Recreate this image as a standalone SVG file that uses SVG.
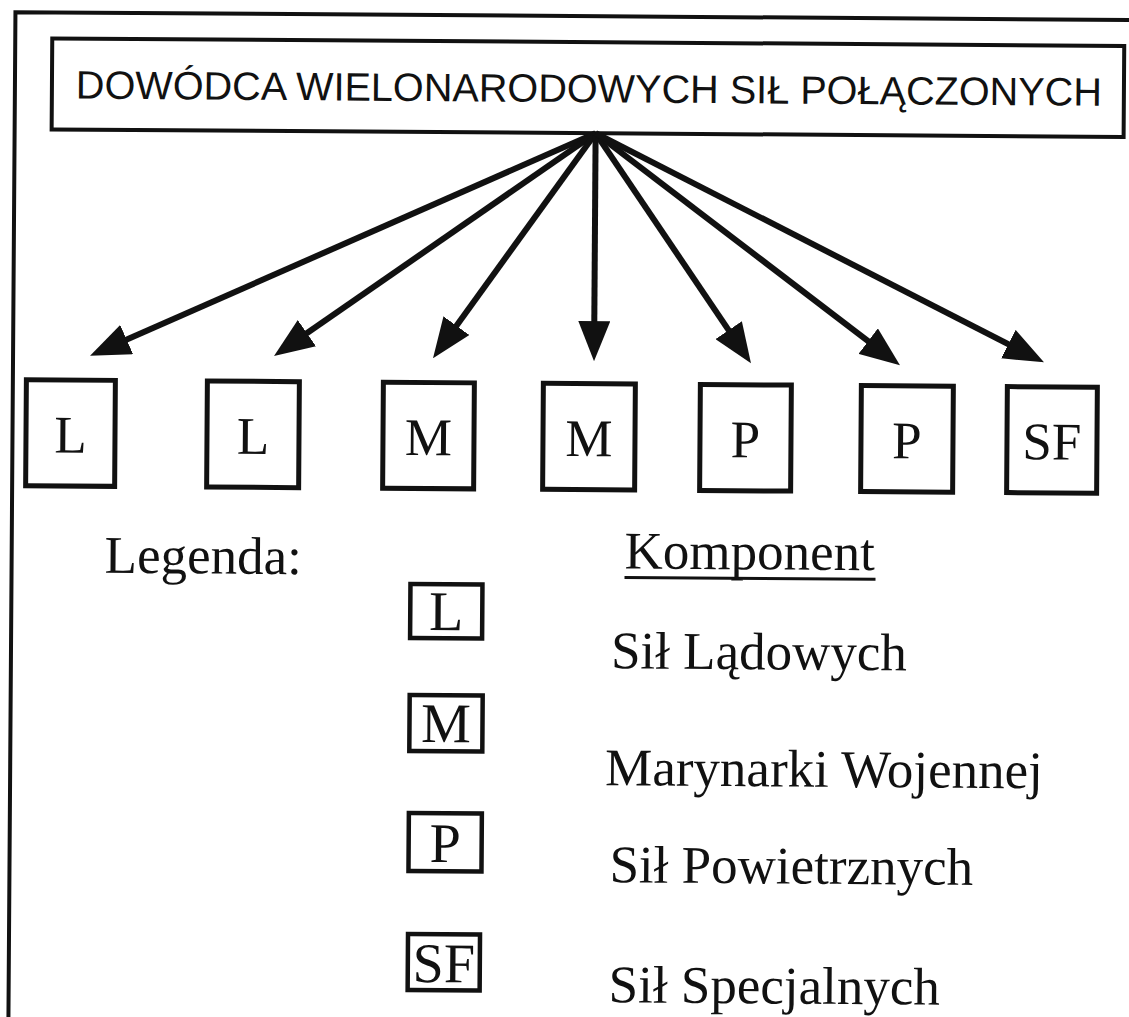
<svg xmlns="http://www.w3.org/2000/svg" width="1129" height="1017" viewBox="0 0 1129 1017">
  <style>
    .frame { fill: none; stroke: #111; stroke-width: 4; }
    .box { fill: #fff; stroke: #111; stroke-width: 5; }
    .lbox { fill: #fff; stroke: #111; stroke-width: 4.5; }
    .title { font-family: "Liberation Sans", Arial, sans-serif; font-size: 39.5px; fill: #111; text-anchor: middle; }
    .letter { font-family: "Liberation Serif", "Times New Roman", serif; font-size: 53px; fill: #111; text-anchor: middle; }
    .lletter { font-family: "Liberation Serif", "Times New Roman", serif; font-size: 56px; fill: #111; text-anchor: middle; }
    .legend { font-family: "Liberation Serif", "Times New Roman", serif; font-size: 53px; fill: #111; }
    .conn { stroke: #111; stroke-width: 6; fill: none; }
  </style>
  <defs>
    <marker id="head" markerUnits="userSpaceOnUse" viewBox="0 0 40 32" markerWidth="40" markerHeight="32" refX="16" refY="16" orient="auto">
      <path d="M0,0 L40,16 L0,32 z" fill="#111"/>
    </marker>
  </defs>
  <rect width="1129" height="1017" fill="#fff"/>
  <g transform="rotate(0.4 564 508)">
    <!-- page frame -->
    <path class="frame" d="M12,1030 V16 H1140"/>

    <!-- commander -->
    <g id="commander">
      <rect class="frame" x="49" y="42" width="1072" height="91"/>
      <text class="title" x="586" y="102" textLength="1026" lengthAdjust="spacingAndGlyphs">DOWÓDCA WIELONARODOWYCH SIŁ POŁĄCZONYCH</text>
    </g>

    <!-- arrows from commander to components -->
    <g id="connectors">
      <line class="conn" x1="593" y1="133" x2="110.9" y2="349.2" marker-end="url(#head)"/>
      <line class="conn" x1="593" y1="133" x2="292.6" y2="344.2" marker-end="url(#head)"/>
      <line class="conn" x1="593" y1="133" x2="445.9" y2="339.5" marker-end="url(#head)"/>
      <line class="conn" x1="593" y1="133" x2="593" y2="337" marker-end="url(#head)"/>
      <line class="conn" x1="593" y1="133" x2="736.4" y2="342.2" marker-end="url(#head)"/>
      <line class="conn" x1="593" y1="133" x2="879.8" y2="348.6" marker-end="url(#head)"/>
      <line class="conn" x1="593" y1="133" x2="1021.5" y2="348.2" marker-end="url(#head)"/>
    </g>

    <!-- component boxes -->
    <g id="land-1">
      <rect class="box" x="25.5" y="383.5" width="89" height="106"/>
      <text class="letter" x="70" y="456">L</text>
    </g>
    <g id="land-2">
      <rect class="box" x="206.5" y="383.5" width="92" height="106"/>
      <text class="letter" x="252.5" y="456">L</text>
    </g>
    <g id="navy-1">
      <rect class="box" x="382.5" y="383.5" width="91" height="106"/>
      <text class="letter" x="428" y="456">M</text>
    </g>
    <g id="navy-2">
      <rect class="box" x="542.5" y="383.5" width="92" height="106"/>
      <text class="letter" x="588.5" y="456">M</text>
    </g>
    <g id="air-1">
      <rect class="box" x="699.5" y="383.5" width="91" height="106"/>
      <text class="letter" x="745" y="456">P</text>
    </g>
    <g id="air-2">
      <rect class="box" x="860.5" y="383.5" width="92" height="106"/>
      <text class="letter" x="906.5" y="456">P</text>
    </g>
    <g id="special">
      <rect class="box" x="1006.5" y="383.5" width="90" height="106"/>
      <text class="letter" x="1051.5" y="456">SF</text>
    </g>

    <!-- legend -->
    <g id="legend">
      <text class="legend" x="105" y="576">Legenda:</text>
      <text class="legend" x="625" y="568">Komponent</text>
      <line x1="625" y1="577" x2="876" y2="577" stroke="#111" stroke-width="3"/>

      <g id="legend-land">
        <rect class="lbox" x="411" y="585" width="72" height="54"/>
        <text class="lletter" x="447" y="631">L</text>
        <text class="legend" x="612" y="668">Sił Lądowych</text>
      </g>
      <g id="legend-navy">
        <rect class="lbox" x="411" y="696" width="73" height="56"/>
        <text class="lletter" x="447.5" y="743">M</text>
        <text class="legend" x="607" y="785">Marynarki Wojennej</text>
      </g>
      <g id="legend-air">
        <rect class="lbox" x="411" y="814" width="73" height="58"/>
        <text class="lletter" x="447.5" y="863">P</text>
        <text class="legend" x="612" y="882">Sił Powietrznych</text>
      </g>
      <g id="legend-special">
        <rect class="lbox" x="411" y="935" width="72" height="56"/>
        <text class="lletter" x="447" y="983">SF</text>
        <text class="legend" x="612" y="1002">Sił Specjalnych</text>
      </g>
    </g>
  </g>
</svg>
